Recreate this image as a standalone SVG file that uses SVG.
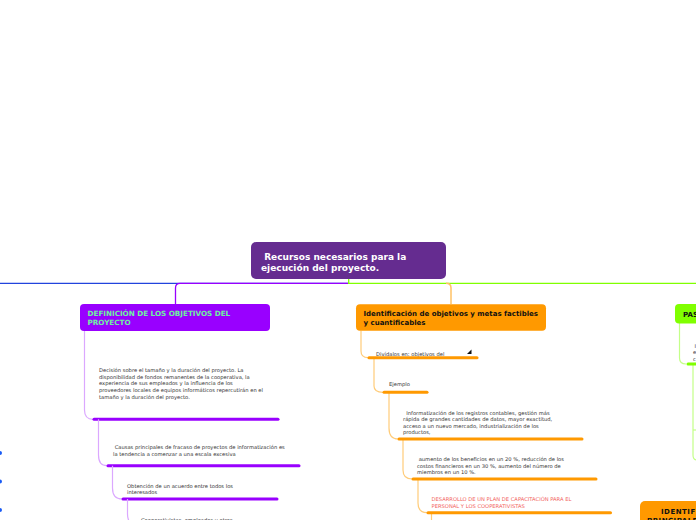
<svg xmlns="http://www.w3.org/2000/svg" width="696" height="520" viewBox="0 0 696 520">
<style>
.t{font-family:"DejaVu Sans",Verdana,sans-serif;font-size:5.2px;fill:#333}
.h{font-family:"DejaVu Sans",Verdana,sans-serif;font-weight:bold;font-size:7px}
.c{font-family:"DejaVu Sans",Verdana,sans-serif;font-weight:bold;font-size:9px;fill:#fff}
.lp{fill:none;stroke:#dba8ff;stroke-width:1.2}
.lo{fill:none;stroke:#ffcc7a;stroke-width:1.2}
.lg{fill:none;stroke:#c4ff88;stroke-width:1.2}
.tp{stroke:#9900ff;stroke-width:3;stroke-linecap:round}
.to{stroke:#ff9900;stroke-width:3;stroke-linecap:round}
.tg{stroke:#80ff00;stroke-width:3;stroke-linecap:round}
</style>
<rect width="696" height="520" fill="#fff"/>

<g id="connectors">
  <path d="M0,283.3 H348" stroke="#2244dd" stroke-width="1.3" fill="none"/>
  <path d="M348.7,283.3 H180 Q175.5,283.3 175.5,288 V304" stroke="#9900ff" stroke-width="1.3" fill="none"/>
  <path d="M348.7,279 V283.3 H696" stroke="#80ff00" stroke-width="1.3" fill="none"/>
  <path d="M446,283.3 Q451,283.3 451,288 V304" stroke="#ffc266" stroke-width="1.5" fill="none"/>
  <circle cx="0" cy="453" r="2" fill="#1a5cf5"/>
  <circle cx="0" cy="481.5" r="2" fill="#1a5cf5"/>
  <circle cx="0" cy="510" r="2" fill="#1a5cf5"/>

  <path class="lp" d="M84.5,331 V410 Q84.5,419.3 93,419.3"/>
  <line class="tp" x1="94" y1="419.3" x2="278" y2="419.3"/>
  <path class="lp" d="M98.5,419.3 V455 Q98.5,465.7 107,465.7"/>
  <line class="tp" x1="108" y1="465.7" x2="299" y2="465.7"/>
  <path class="lp" d="M112.5,465.7 V488 Q112.5,499 122,499"/>
  <line class="tp" x1="123" y1="499" x2="277" y2="499"/>
  <path class="lp" d="M127.5,499 V514 Q127.5,520 130,522"/>

  <path class="lo" d="M361,330.7 V351 Q361,357.7 368,357.7"/>
  <path class="lo" d="M374,357.7 V386 Q374,392.3 383,392.3"/>
  <path class="lo" d="M389,392.3 V428 Q389,439 398,439"/>
  <path class="lo" d="M403,439 V470 Q403,479 412,479"/>
  <path class="lo" d="M418,479 V503 Q418,512.7 427,512.7"/>
  <path class="lo" d="M431.5,512.7 V521"/>

  <path class="lg" d="M679.5,323 V358 Q679.5,364 686,364"/>
  <path class="lg" d="M693,365 V455 Q693,460 697,460"/>
  <path class="lg" d="M693,430 H697"/>
</g>

<g id="n-central">
  <rect x="251" y="242" width="195" height="37" rx="5" fill="#652c90"/>
  <text class="c" x="261" y="260" xml:space="preserve"> Recursos necesarios para la</text>
  <text class="c" x="261" y="271">ejecución del proyecto.</text>
</g>

<g id="n-definicion">
  <rect x="80" y="304" width="190" height="27" rx="4" fill="#9900ff"/>
  <text class="h" x="87.5" y="316" fill="#70f0a0" style="font-size:7.2px">DEFINICIÓN DE LOS OBJETIVOS DEL</text>
  <text class="h" x="87.5" y="325" fill="#70f0a0" style="font-size:7.2px">PROYECTO</text>
</g>

<g id="n-decision">
  <text class="t" x="99" y="372">Decisión sobre el tamaño y la duración del proyecto. La</text>
  <text class="t" x="99" y="378.7">disponibilidad de fondos remanentes de la cooperativa, la</text>
  <text class="t" x="99" y="385.4">experiencia de sus empleados y la influencia de los</text>
  <text class="t" x="99" y="392.1">proveedores locales de equipos informáticos repercutirán en el</text>
  <text class="t" x="99" y="398.8">tamaño y la duración del proyecto.</text>
</g>

<g id="n-causas">
  <text class="t" x="113" y="449.3" xml:space="preserve"> Causas principales de fracaso de proyectos de informatización es</text>
  <text class="t" x="113" y="455.5">la tendencia a comenzar a una escala excesiva</text>
</g>

<g id="n-obtencion">
  <text class="t" x="127" y="487.5">Obtención de un acuerdo entre todos los</text>
  <text class="t" x="127" y="494">interesados</text>
</g>

<g id="n-cooperativistas">
  <text class="t" x="141" y="521.5">Cooperativistas, empleados y otros</text>
</g>

<g id="n-identificacion">
  <rect x="356" y="304.3" width="190" height="26.4" rx="4" fill="#ff9900"/>
  <text class="h" x="363.5" y="316" fill="#111">Identificación de objetivos y metas factibles</text>
  <text class="h" x="363.5" y="325" fill="#111">y cuantificables</text>
</g>

<g id="n-dividalos">
  <text class="t" x="376" y="356">Divídalos en: objetivos del</text>
  <polygon points="467,354 471.5,354 471.5,349.5" fill="#111"/>
  <line class="to" x1="369" y1="357.7" x2="477" y2="357.7"/>
</g>

<g id="n-ejemplo">
  <text class="t" x="389" y="385.5">Ejemplo</text>
  <line class="to" x1="384" y1="392.3" x2="427" y2="392.3"/>
</g>

<g id="n-informatizacion">
  <text class="t" x="403" y="414.5" xml:space="preserve">  Informatización de los registros contables, gestión más</text>
  <text class="t" x="403" y="421">rápida de grandes cantidades de datos, mayor exactitud,</text>
  <text class="t" x="403" y="427.5">acceso a un nuevo mercado, industrialización de los</text>
  <text class="t" x="403" y="434">productos,</text>
  <line class="to" x1="399" y1="439" x2="582" y2="439"/>
</g>

<g id="n-aumento">
  <text class="t" x="417" y="461" xml:space="preserve"> aumento de los beneficios en un 20 %, reducción de los</text>
  <text class="t" x="417" y="467.7">costos financieros en un 30 %, aumento del número de</text>
  <text class="t" x="417" y="474.2">miembros en un 10 %.</text>
  <line class="to" x1="413" y1="479" x2="596" y2="479"/>
</g>

<g id="n-desarrollo">
  <text class="t" x="431.5" y="501.3" style="fill:#f2605a">DESARROLLO DE UN PLAN DE CAPACITACIÓN PARA EL</text>
  <text class="t" x="431.5" y="508" style="fill:#f2605a">PERSONAL Y LOS COOPERATIVISTAS</text>
  <line class="to" x1="428" y1="512.7" x2="610.5" y2="512.7"/>
</g>

<g id="n-pas">
  <rect x="675" y="304" width="30" height="19.5" rx="4" fill="#80ff00"/>
  <text class="h" x="683" y="316.5" fill="#111">PAS</text>
</g>

<g id="n-pas-text">
  <text class="t" x="694.5" y="347.5">I</text>
  <text class="t" x="693" y="354">e</text>
  <text class="t" x="693" y="360.5">c</text>
  <line class="tg" x1="688" y1="364" x2="700" y2="364"/>
</g>

<g id="n-identif2">
  <rect x="640" y="501" width="70" height="30" rx="5" fill="#ff9900"/>
  <text class="h" x="661" y="514" fill="#111" style="letter-spacing:0.5px">IDENTIF</text>
  <text class="h" x="647" y="523" fill="#111" style="letter-spacing:0.5px">PRINCIPALE</text>
</g>
</svg>
